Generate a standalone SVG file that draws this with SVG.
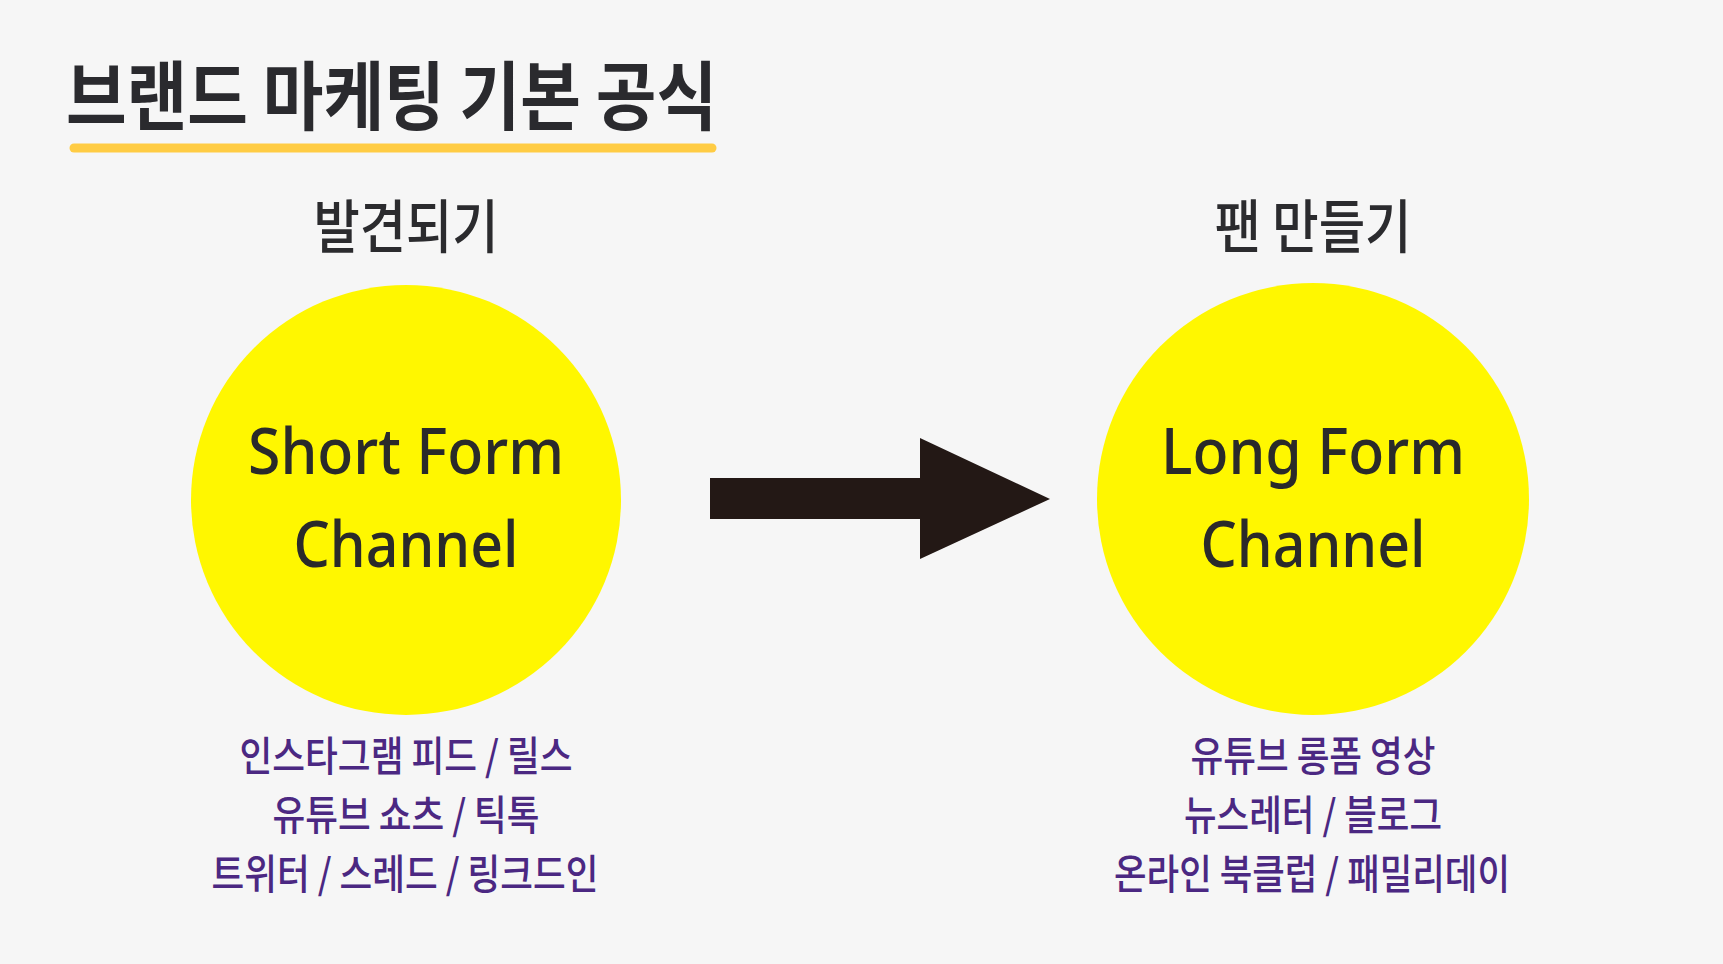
<svg xmlns="http://www.w3.org/2000/svg" width="1723" height="964" viewBox="0 0 1723 964">
<style>
.kr{font-family:"Noto Sans CJK KR","Noto Sans",sans-serif;}
.title{font-size:75px;font-weight:700;fill:#2a2a2e;}
.head{font-size:58px;font-weight:500;fill:#2b2b2e;text-anchor:middle;}
.circ{fill:#FFF700;}
.ctext{font-family:"Noto Sans","Open Sans",sans-serif;font-size:63px;font-weight:500;fill:#2a2a2a;text-anchor:middle;}
.list{font-size:41px;font-weight:500;fill:#4B2882;text-anchor:middle;}
</style>
<rect x="0" y="0" width="1723" height="964" fill="#F6F6F6"/>
<g id="title">
<text class="kr title" x="66" y="124" textLength="651" lengthAdjust="spacingAndGlyphs">브랜드 마케팅 기본 공식</text>
<line x1="74" y1="148" x2="712" y2="148" stroke="#FFCC44" stroke-width="9" stroke-linecap="round"/>
</g>
<g id="node-short">
<text class="kr head" x="406" y="248" textLength="185" lengthAdjust="spacingAndGlyphs">발견되기</text>
<circle class="circ" cx="406" cy="500" r="215"/>
<text class="ctext" x="406" y="474" textLength="316" lengthAdjust="spacingAndGlyphs">Short Form</text>
<text class="ctext" x="406" y="567" textLength="225" lengthAdjust="spacingAndGlyphs">Channel</text>
<text class="kr list" x="406" y="771" textLength="333" lengthAdjust="spacingAndGlyphs">인스타그램 피드 / 릴스</text>
<text class="kr list" x="406" y="830" textLength="267" lengthAdjust="spacingAndGlyphs">유튜브 쇼츠 / 틱톡</text>
<text class="kr list" x="405" y="889" textLength="387" lengthAdjust="spacingAndGlyphs">트위터 / 스레드 / 링크드인</text>
</g>
<g id="node-long">
<text class="kr head" x="1313" y="248" textLength="197" lengthAdjust="spacingAndGlyphs">팬 만들기</text>
<circle class="circ" cx="1313" cy="499" r="216"/>
<text class="ctext" x="1313" y="474" textLength="304" lengthAdjust="spacingAndGlyphs">Long Form</text>
<text class="ctext" x="1313" y="567" textLength="225" lengthAdjust="spacingAndGlyphs">Channel</text>
<text class="kr list" x="1313" y="771" textLength="245" lengthAdjust="spacingAndGlyphs">유튜브 롱폼 영상</text>
<text class="kr list" x="1313" y="830" textLength="258" lengthAdjust="spacingAndGlyphs">뉴스레터 / 블로그</text>
<text class="kr list" x="1312" y="889" textLength="396" lengthAdjust="spacingAndGlyphs">온라인 북클럽 / 패밀리데이</text>
</g>
<g id="connectors">
<polygon points="710,478 920,478 920,438 1050,499 920,559 920,519 710,519" fill="#231815"/>
</g>
</svg>
